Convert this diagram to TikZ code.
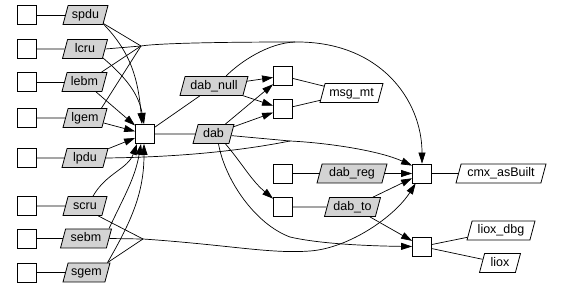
\documentclass[tikz,border=0pt]{standalone}
\usepackage{fontspec}
\setmainfont{Liberation Sans}
\usetikzlibrary{shapes.geometric,arrows.meta,backgrounds}
\definecolor{datgray}{RGB}{211,211,211}
\begin{document}
\begin{tikzpicture}[x=1pt,y=1pt,
 proc/.style={draw, fill=white, minimum width=19pt, minimum height=19pt, inner sep=0pt, line width=0.8pt},
 dat/.style={draw, fill=datgray, trapezium, trapezium left angle=75, trapezium right angle=105, inner xsep=0pt, inner ysep=3.5pt, text height=9.5pt, text depth=2.5pt, align=center, line width=0.8pt, font=\fontsize{12.5}{14}\selectfont},
 datw/.style={dat, fill=white},
 flow/.style={-{Triangle[length=11pt,width=7pt]}, line width=0.7pt},
 link/.style={line width=0.7pt}]
\path[use as bounding box] (0,0) rectangle (561,288);
% left column
\node[proc] (b1) at (26.5,273) {};
\node[proc] (b2) at (26.5,239) {};
\node[proc] (b3) at (26.5,206) {};
\node[proc] (b4) at (26.5,170) {};
\node[proc] (b5) at (26.5,130) {};
\node[proc] (b6) at (26.5,82) {};
\node[proc] (b7) at (26.5,49.5) {};
\node[proc] (b8) at (26.5,15.5) {};
\node[dat, text width=34.8pt] (p1) at (85.5,273) {spdu};
\node[dat, text width=34.8pt] (p2) at (85,239) {lcru};
\node[dat, text width=34.8pt] (p3) at (84.5,206) {lebm};
\node[dat, text width=33.8pt] (p4) at (85,170) {lgem};
\node[dat, text width=35.8pt] (p5) at (85,130) {lpdu};
\node[dat, text width=33.8pt] (p6) at (85,82) {scru};
\node[dat, text width=40.8pt] (p7) at (86,49.5) {sebm};
\node[dat, text width=36.8pt] (p8) at (86.5,15.5) {sgem};
% middle
\node[proc] (cen) at (145,154) {};
\node[dat, text width=30.8pt] (dab) at (213.5,154) {dab};
\node[dat, text width=57.8pt] (dnull) at (214,202) {dab\_null};
\node[proc] (bA) at (283,212) {};
\node[proc] (bB) at (283,179) {};
\node[datw, text width=52.8pt] (msg) at (351.5,195) {msg\_mt};
\node[proc] (bR) at (283,114.5) {};
\node[dat, text width=59.8pt] (reg) at (352,114.5) {dab\_reg};
\node[proc] (bT) at (283,81) {};
\node[dat, text width=45.8pt] (dto) at (352.5,81) {dab\_to};
% right
\node[proc] (cmx) at (422,114.5) {};
\node[datw, text width=79.8pt] (cab) at (501,114.5) {cmx\_asBuilt};
\node[proc] (lio) at (422,41.5) {};
\node[datw, text width=57.8pt] (ldbg) at (501,57.5) {liox\_dbg};
\node[datw, text width=30.8pt] (lx) at (500,25) {liox};
% merge points
\coordinate (m1) at (141,242);
\coordinate (j1) at (295,246);
\coordinate (m2) at (143,49);
\coordinate (j2) at (290,147);
\begin{scope}[on background layer]
\foreach \i in {1,...,8} {\draw[link] (b\i) -- (p\i);}
% inputs of the central box
\draw[flow] ([xshift=-1pt,yshift=2pt]p1.bottom right corner) to[out=-45,in=95] ([xshift=-3pt]cen.north);
\draw[flow] ([xshift=-1pt,yshift=2pt]p2.bottom right corner) to[out=-40,in=100] ([xshift=-1pt]cen.north);
\draw[flow] (p3) -- (cen);
\draw[flow] (p4) -- (cen);
\draw[flow] (p5) -- (cen);
\draw[flow] ([xshift=8pt]p6.north) to[out=60,in=-110] ([xshift=-8pt]cen.south);
\draw[flow] ([xshift=-3pt]p7.top right corner) to[out=65,in=-100] ([xshift=-4pt]cen.south);
\draw[flow] ([xshift=-3pt]p8.top right corner) to[out=60,in=-90] ([xshift=-1pt]cen.south);
% upper merged flow to cmx
\draw[link] ([yshift=1.5pt]p1.bottom right corner) -- (m1);
\draw[link] (p2.east) -- (m1);
\draw[link] ([xshift=-6pt]p3.top right corner) -- (m1);
\draw[link] ([xshift=-6pt]p4.top right corner) -- (m1);
\draw[flow] (m1) .. controls (160,245) and (230,246) .. (j1) .. controls (380,247) and (422,188) .. (cmx.north);
\draw[link] ([xshift=12pt]dnull.north) .. controls (240,226) and (268,245) .. (j1);
% central outputs
\draw[link] (cen) -- (dab);
\draw[link] (cen) -- (dnull);
\draw[flow] (dnull) -- (bA);
\draw[flow] (dnull) -- (bB);
\draw[flow] (dab) -- (bA);
\draw[flow] (dab) -- (bB);
\draw[link] (bA) -- (msg);
\draw[link] (bB) -- (msg);
% dab and lpdu to cmx
\draw[link] (dab) -- (j2);
\draw[link] (p5.east) .. controls (190,131) and (250,139) .. (j2);
\draw[flow] (j2) .. controls (330,145) and (380,137) .. ([yshift=-2pt]cmx.north west);
% dab downwards
\draw[flow] ([xshift=5pt]dab.south) .. controls (225,108) and (255,64) .. (290,51) .. controls (320,44) and (370,42) .. (lio.west);
\draw[flow] ([xshift=12pt]dab.south) to[out=-50,in=140] (bT);
% lower merged flow to cmx
\draw[link] ([xshift=-4pt]p6.bottom right corner) -- (m2);
\draw[link] (p7.east) -- (m2);
\draw[link] ([xshift=-3pt]p8.top right corner) -- (m2);
\draw[flow] (m2) .. controls (230,43) and (270,34) .. (310,37) .. controls (350,40) and (395,72) .. ([xshift=3.5pt]cmx.south west);
% right part
\draw[flow] (reg) -- (cmx);
\draw[flow] (dto) -- (cmx);
\draw[flow] (dto) -- (lio);
\draw[link] (bR) -- (reg);
\draw[link] (bT) -- (dto);
\draw[link] (cmx) -- (cab);
\draw[link] (lio) -- (ldbg);
\draw[link] (lio) -- (lx);
\end{scope}
\end{tikzpicture}
\end{document}
